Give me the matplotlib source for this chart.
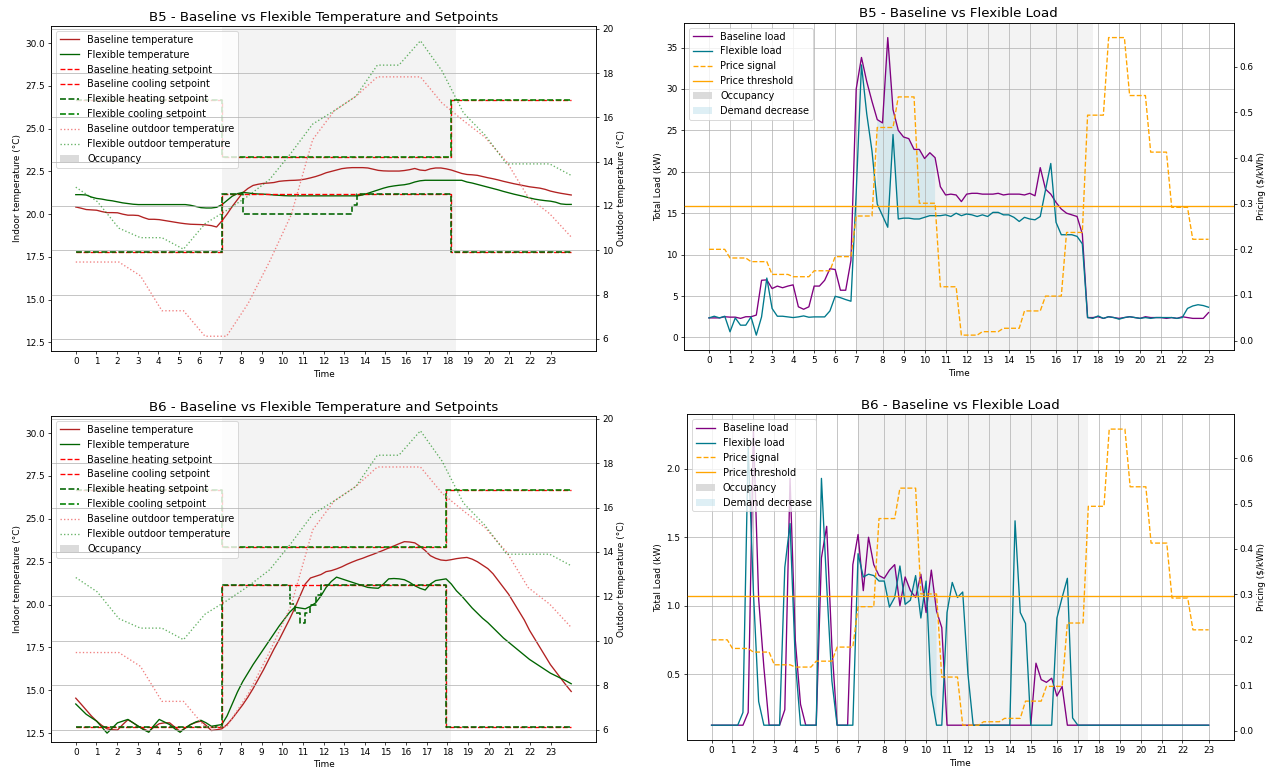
import numpy as np
import matplotlib
matplotlib.use("Agg")
import matplotlib.pyplot as plt
from matplotlib.patches import Patch

# ---------------- data ----------------
hour_labels = list(range(24))
# sample index at which each hour starts (load charts)
load_tick_idx = [0, 4, 8, 12, 16, 20, 24, 28, 33, 37, 41, 45, 49, 53, 57, 61,
                 66, 70, 74, 78, 82, 86, 90, 95]

price_hourly = [0.200, 0.181, 0.173, 0.145, 0.140, 0.153, 0.184, 0.273,
                0.467, 0.534, 0.301, 0.118, 0.012, 0.0196, 0.027, 0.065,
                0.0975, 0.237, 0.494, 0.664, 0.537, 0.413, 0.292, 0.222]
price_threshold = 0.296

occ_start = 28
occ_end_b5 = 73
occ_end_b6 = 72

b5_base_load = [2.36, 2.36, 2.36, 2.5, 2.45, 2.45, 2.3, 2.5,
                2.5, 2.7, 6.9, 6.95, 5.9, 6.2, 6.0, 6.2,
                6.35, 3.7, 3.4, 3.7, 6.2, 6.2, 6.9, 8.3,
                8.2, 5.7, 5.7, 9.3, 30.0, 33.8, 30.9, 28.5,
                26.3, 25.9, 36.2, 27.5, 25.0, 24.2, 24.0, 22.7,
                22.7, 21.6, 22.3, 21.7, 18.2, 17.2, 17.3, 17.2,
                16.4, 17.3, 17.4, 17.4, 17.3, 17.3, 17.3, 17.4,
                17.2, 17.3, 17.3, 17.3, 17.2, 17.4, 17.1, 20.5,
                17.9, 17.3, 16.3, 15.5, 15.0, 14.8, 14.6, 12.5,
                2.4, 2.4, 2.5, 2.3, 2.5, 2.4, 2.3, 2.4,
                2.5, 2.4, 2.3, 2.5, 2.4, 2.4, 2.4, 2.3,
                2.4, 2.3, 2.5, 2.4, 2.3, 2.3, 2.3, 3.0]
b5_flex_load = [2.36, 2.56, 2.36, 2.56, 0.68, 2.36, 1.48, 1.48,
                2.48, 0.28, 2.48, 7.17, 3.5, 2.56, 2.56, 2.48,
                2.4, 2.48, 2.6, 2.44, 2.48, 2.48, 2.48, 3.2,
                4.97, 4.8, 4.57, 4.37, 17.5, 32.9, 27.0, 22.5,
                16.1, 14.7, 13.3, 24.5, 14.3, 14.4, 14.4, 14.3,
                14.3, 14.5, 14.7, 14.7, 14.7, 14.8, 14.6, 15.0,
                14.7, 14.9, 14.8, 14.6, 14.8, 14.6, 15.1, 15.1,
                14.8, 14.8, 14.5, 14.0, 14.5, 14.3, 14.2, 14.6,
                17.8, 21.0, 13.9, 12.4, 12.4, 12.4, 12.2, 11.3,
                2.4, 2.3, 2.6, 2.3, 2.5, 2.4, 2.2, 2.4,
                2.5, 2.4, 2.3, 2.4, 2.3, 2.4, 2.4, 2.4,
                2.4, 2.3, 2.4, 3.5, 3.8, 3.95, 3.85, 3.65]

b6_base_load = ([0.127] * 7 + [0.22,
                 2.29, 1.05, 0.55, 0.127, 0.127, 0.127, 0.24, 1.93,
                 0.75, 0.28, 0.127, 0.127, 0.127, 1.35, 1.58, 0.7,
                 0.127, 0.127, 0.127, 1.30, 1.52, 1.11, 1.50, 1.30,
                 1.22, 1.20, 1.26, 1.30, 1.00, 1.21, 1.11, 1.06,
                 1.23, 0.95, 1.26, 0.96, 0.84] + [0.127] * 17 +
                [0.58, 0.46, 0.44, 0.47, 0.34, 0.41] + [0.127] * 28)
b6_flex_load = ([0.127] * 6 + [0.22, 2.16,
                 1.1, 0.3, 0.127, 0.127, 0.127, 0.127, 1.28, 1.60,
                 0.6, 0.127, 0.127, 0.127, 0.127, 1.93, 1.15, 0.45,
                 0.127, 0.127, 0.127, 0.127, 1.38, 1.21, 1.23, 1.22,
                 1.18, 1.18, 0.99, 1.06, 1.29, 1.01, 1.04, 1.22,
                 0.91, 1.18, 0.35, 0.127, 0.127, 0.95, 1.17, 1.06,
                 1.10, 0.5] + [0.127] * 8 +
                [1.62, 0.95, 0.87] + [0.127] * 5 +
                [0.91, 1.06, 1.20, 0.18] + [0.127] * 26)

b5_base_temp = [20.42, 20.35, 20.27, 20.25, 20.23, 20.15, 20.09, 20.09,
                20.08, 20.0, 19.94, 19.94, 19.92, 19.8, 19.7, 19.7,
                19.68, 19.63, 19.58, 19.53, 19.48, 19.44, 19.41, 19.4,
                19.39, 19.37, 19.33, 19.25, 19.6, 20.0, 20.45, 20.85,
                21.25, 21.5, 21.68, 21.75, 21.8, 21.82, 21.85, 21.92,
                21.95, 21.97, 21.98, 22.0, 22.05, 22.12, 22.2, 22.3,
                22.42, 22.5, 22.58, 22.66, 22.7, 22.72, 22.72, 22.72,
                22.7, 22.63, 22.56, 22.53, 22.52, 22.52, 22.52, 22.55,
                22.6, 22.67, 22.58, 22.55, 22.65, 22.7, 22.7, 22.65,
                22.58, 22.48, 22.38, 22.32, 22.3, 22.27, 22.2, 22.13,
                22.07, 22.0, 21.92, 21.85, 21.78, 21.72, 21.66, 21.6,
                21.56, 21.52, 21.45, 21.35, 21.28, 21.22, 21.17, 21.12]
b5_flex_temp = ([21.14, 21.14, 21.12, 21.0, 20.92, 20.88, 20.82, 20.78,
                 20.72, 20.66, 20.62, 20.58] + [20.56] * 10 +
                [20.52, 20.45, 20.38, 20.36, 20.36, 20.4, 20.55, 20.8, 21.05, 21.2,
                 21.27, 21.24, 21.2, 21.18, 21.17, 21.15, 21.12, 21.1, 21.08] +
                [21.07] * 14 +
                [21.12, 21.22, 21.32, 21.42, 21.52, 21.6, 21.65, 21.69, 21.72,
                 21.78, 21.88, 21.95] + [21.98] * 8 +
                [21.88, 21.82, 21.74, 21.66, 21.58,
                 21.5, 21.42, 21.33, 21.25, 21.17, 21.1, 21.03, 20.95,
                 20.88, 20.83, 20.79, 20.76, 20.7, 20.6, 20.57, 20.57])

b6_base_temp = [14.54, 14.2, 13.85, 13.5, 13.2, 12.95, 12.75, 12.7,
                12.68, 13.0, 13.28, 13.1, 12.9, 12.75, 12.6, 12.85,
                13.05, 13.1, 13.1, 12.85, 12.6, 12.8, 13.0, 13.12,
                13.2, 12.95, 12.65, 12.7, 12.75, 13.0, 13.35, 13.75,
                14.15, 14.6, 15.1, 15.65, 16.2, 16.8, 17.4, 17.95,
                18.55, 19.15, 19.8, 20.5, 21.2, 21.55, 21.65, 21.75,
                21.92, 21.98, 22.08, 22.2, 22.35, 22.48, 22.6, 22.7,
                22.82, 22.93, 23.05, 23.17, 23.3, 23.42, 23.55, 23.67,
                23.65, 23.6, 23.4, 23.15, 22.85, 22.7, 22.6, 22.57,
                22.62, 22.68, 22.72, 22.75, 22.65, 22.5, 22.3, 22.1,
                21.8, 21.4, 21.0, 20.6, 20.1, 19.6, 19.1, 18.5,
                18.0, 17.5, 17.0, 16.5, 16.1, 15.7, 15.3, 14.93]
b6_flex_temp = [14.2, 13.9, 13.6, 13.4, 13.2, 12.85, 12.5, 12.8,
                13.1, 13.2, 13.3, 13.1, 12.9, 12.7, 12.55, 12.95,
                13.3, 13.15, 13.0, 12.75, 12.55, 12.8, 13.0, 13.15,
                13.25, 13.1, 12.9, 12.95, 13.0, 13.5, 14.2, 14.9,
                15.5, 16.0, 16.5, 16.95, 17.4, 17.85, 18.3, 18.75,
                19.15, 19.55, 19.85, 19.8, 19.75, 19.9, 20.1, 20.5,
                21.0, 21.35, 21.6, 21.5, 21.4, 21.3, 21.2, 21.1,
                21.0, 20.97, 20.95, 21.2, 21.5, 21.52, 21.5, 21.45,
                21.3, 21.1, 20.95, 20.85, 21.2, 21.4, 21.45, 21.5,
                21.2, 20.8, 20.5, 20.15, 19.8, 19.5, 19.2, 18.95,
                18.65, 18.35, 18.05, 17.8, 17.55, 17.3, 17.05, 16.8,
                16.6, 16.4, 16.2, 16.0, 15.85, 15.7, 15.55, 15.38]

# setpoints (per sample)
b5_base_heat = [17.8] * 28 + [21.15] * 44 + [17.8] * 24
b5_base_cool = [26.69] * 28 + [23.35] * 44 + [26.69] * 24
b5_flex_heat = [17.8] * 28 + [21.15] * 4 + [20.03] * 21 + [20.52] + [21.15] * 18 + [17.8] * 24
b5_flex_cool = [26.69] * 28 + [23.35] * 44 + [26.69] * 24

b6_base_heat = [12.83] * 28 + [21.15] * 43 + [12.83] * 25
b6_base_cool = [26.69] * 28 + [23.35] * 43 + [26.69] * 25
b6_flex_heat = ([12.83] * 28 + [21.15] * 13 +
                [20.05, 19.5, 18.92, 19.5, 20.0, 20.57] + [21.15] * 24 + [12.83] * 25)
b6_flex_cool = [26.69] * 28 + [23.35] * 43 + [26.69] * 25

# hourly outdoor temperatures
outdoor_base = [9.47, 9.47, 9.47, 8.85, 7.27, 7.27, 6.12, 6.12, 7.6, 9.5, 11.6, 15.0,
                16.3, 16.95, 17.83, 17.83, 17.83, 16.65, 15.85, 15.1, 14.0, 12.4, 11.65, 10.6]
outdoor_flex = [12.85, 12.2, 11.0, 10.57, 10.57, 10.05, 11.2, 11.8, 12.45, 13.2, 14.4, 15.7,
                16.3, 16.95, 18.36, 18.36, 19.46, 18.1, 16.2, 15.2, 13.9, 13.9, 13.9, 13.38]

# ---------------- plotting ----------------
t_temp = np.linspace(0, 24, len(b5_base_temp))
t_out = np.linspace(0, 24, len(outdoor_base))
idx = np.arange(len(b5_base_load))
price = np.repeat(price_hourly, 4)

W, H, DPI = 1279, 774, 64
plt.rcParams['axes.titlesize'] = 15
plt.rcParams['legend.fontsize'] = 11
fig = plt.figure(figsize=(W / DPI, H / DPI), dpi=DPI)

C_BASE_T = 'firebrick'
C_FLEX_T = 'darkgreen'
C_BLOAD = 'purple'
C_FLOAD = '#00798c'


def temp_panel(rect, bname, base_t, flex_t, bh, bc, fh, fc, occ_end):
    ax = fig.add_axes(rect)
    ax.axvspan(t_temp[occ_start], t_temp[occ_end], color='lightgray', alpha=0.25, lw=0)
    l1, = ax.plot(t_temp, base_t, color=C_BASE_T, lw=1.5)
    l2, = ax.plot(t_temp, flex_t, color=C_FLEX_T, lw=1.5)
    l3, = ax.plot(t_temp, bh, color='red', ls='--', lw=1.5, drawstyle='steps-post')
    l4, = ax.plot(t_temp, bc, color='red', ls='--', lw=1.5, drawstyle='steps-post')
    l5, = ax.plot(t_temp, fh, color='darkgreen', ls='--', lw=1.8, drawstyle='steps-post')
    l6, = ax.plot(t_temp, fc, color='green', ls='--', lw=1.8, drawstyle='steps-post')
    ax.set_ylim(12.0, 31.0)
    ax.set_xticks(range(24))
    ax.set_xticklabels(hour_labels)
    ax.set_xlabel('Time')
    ax.set_ylabel('Indoor temperature (°C)')
    ax.set_title(f'{bname} - Baseline vs Flexible Temperature and Setpoints')
    ax2 = ax.twinx()
    l7, = ax2.plot(t_out, outdoor_base, color='lightcoral', ls=':', lw=1.5)
    l8, = ax2.plot(t_out, outdoor_flex, color='green', ls=':', lw=1.5, alpha=0.6)
    ax2.set_ylabel('Outdoor temperature (°C)')
    ax2.grid(True)
    occ = Patch(facecolor='lightgray', alpha=0.8)
    ax.legend([l1, l2, l3, l4, l5, l6, l7, l8, occ],
              ['Baseline temperature', 'Flexible temperature',
               'Baseline heating setpoint', 'Baseline cooling setpoint',
               'Flexible heating setpoint', 'Flexible cooling setpoint',
               'Baseline outdoor temperature', 'Flexible outdoor temperature',
               'Occupancy'], loc='upper left')


def load_panel(rect, bname, base, flex, occ_end):
    ax = fig.add_axes(rect)
    ax.axvspan(occ_start, occ_end, color='lightgray', alpha=0.25, lw=0)
    l1, = ax.plot(idx, base, color=C_BLOAD, lw=1.5)
    l2, = ax.plot(idx, flex, color=C_FLOAD, lw=1.5)
    mask = price > price_threshold
    fb = ax.fill_between(idx, base, flex, where=mask, color='lightblue', alpha=0.4, lw=0)
    ax.grid(True)
    ax.set_xticks(load_tick_idx)
    ax.set_xticklabels(hour_labels)
    ax.set_xlabel('Time')
    ax.set_ylabel('Total Load (kW)')
    ax.set_title(f'{bname} - Baseline vs Flexible Load')
    ax2 = ax.twinx()
    l3, = ax2.plot(idx, price, color='orange', ls='--', lw=1.5)
    l4 = ax2.axhline(price_threshold, color='orange', lw=1.5)
    ax2.set_ylabel('Pricing ($/kWh)')
    occ = Patch(facecolor='lightgray', alpha=0.8)
    ax.legend([l1, l2, l3, l4, occ, fb],
              ['Baseline load', 'Flexible load', 'Price signal', 'Price threshold',
               'Occupancy', 'Demand decrease'], loc='upper left')


temp_panel([51 / W, 1 - 351 / H, 545 / W, 325 / H], 'B5',
           b5_base_temp, b5_flex_temp, b5_base_heat, b5_base_cool,
           b5_flex_heat, b5_flex_cool, occ_end_b5)
load_panel([684 / W, 1 - 350 / H, 549.5 / W, 327.3 / H], 'B5',
           b5_base_load, b5_flex_load, occ_end_b5)
temp_panel([51 / W, 1 - 741.7 / H, 545 / W, 325.7 / H], 'B6',
           b6_base_temp, b6_flex_temp, b6_base_heat, b6_base_cool,
           b6_flex_heat, b6_flex_cool, occ_end_b6)
load_panel([686.7 / W, 1 - 740 / H, 546.8 / W, 325.7 / H], 'B6',
           b6_base_load, b6_flex_load, occ_end_b6)

fig.savefig('out.png', dpi=DPI)
